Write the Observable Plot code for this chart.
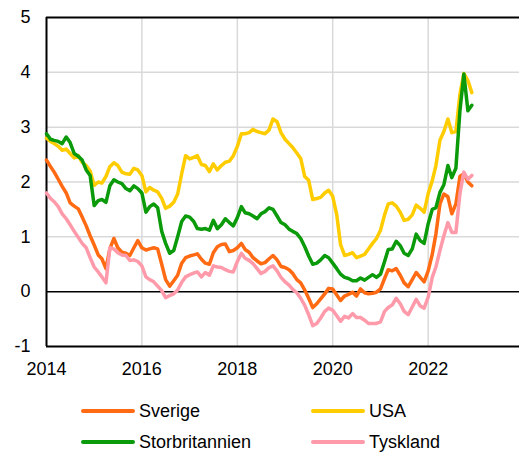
<!DOCTYPE html>
<html><head><meta charset="utf-8">
<script src="https://cdn.jsdelivr.net/npm/d3@7"></script>
<script src="https://cdn.jsdelivr.net/npm/@observablehq/plot@0.6"></script>
<style>
body{margin:0;background:#fff;font-family:"Liberation Sans",Arial,sans-serif;}
#wrap{position:relative;width:519px;height:452px;overflow:hidden;}
.leg{position:absolute;display:flex;align-items:center;font-size:18px;color:#000;line-height:20px;}
.sw{width:54px;height:4px;border-radius:2px;margin-right:4px;}
</style></head><body><div id="wrap"><div id="chart"></div></div>
<script>
const seriesNames = ["Sverige","USA","Storbritannien","Tyskland"];
const seriesColors = ["#FF6A13","#FFCC00","#0A9A0A","#FF9AAA"];
const xTickYears = [2014,2016,2018,2020,2022];
const yTickValues = [-1,0,1,2,3,4,5];

const sverige = [
 2.40,2.28,2.18,2.05,1.92,1.80,1.62,1.56,1.51,1.36,1.20,1.02,
 0.85,0.67,0.60,0.42,0.78,0.97,0.80,0.72,0.70,0.66,0.80,0.93,
 0.80,0.76,0.78,0.80,0.78,0.50,0.22,0.10,0.20,0.30,0.52,0.62,
 0.65,0.67,0.69,0.59,0.52,0.50,0.71,0.82,0.86,0.87,0.73,0.75,
 0.80,0.88,0.77,0.72,0.62,0.56,0.51,0.53,0.60,0.66,0.58,0.46,
 0.44,0.40,0.33,0.22,0.16,0.03,-0.12,-0.29,-0.22,-0.13,-0.04,0.06,
 0.05,-0.06,-0.16,-0.08,-0.05,-0.01,-0.08,0.05,-0.02,-0.04,-0.03,-0.01,
 0.05,0.24,0.40,0.38,0.42,0.30,0.16,0.09,0.22,0.35,0.26,0.18,
 0.38,0.68,1.05,1.60,1.78,1.73,1.42,1.60,2.10,2.15,2.00,1.93];
const usa = [
 2.80,2.74,2.70,2.65,2.58,2.60,2.52,2.44,2.48,2.36,2.30,2.20,
 1.94,2.00,1.98,2.10,2.28,2.35,2.30,2.18,2.15,2.14,2.25,2.22,
 2.12,1.82,1.90,1.85,1.82,1.70,1.52,1.56,1.63,1.78,2.15,2.48,
 2.42,2.45,2.48,2.32,2.30,2.19,2.33,2.22,2.30,2.36,2.38,2.48,
 2.65,2.88,2.88,2.90,2.96,2.92,2.90,2.88,2.95,3.15,3.10,2.90,
 2.78,2.70,2.63,2.53,2.43,2.10,2.03,1.68,1.70,1.72,1.80,1.85,
 1.74,1.40,0.86,0.66,0.68,0.71,0.62,0.65,0.68,0.78,0.88,0.97,
 1.12,1.40,1.60,1.62,1.56,1.45,1.30,1.32,1.40,1.58,1.52,1.45,
 1.79,2.02,2.30,2.76,2.92,3.15,2.90,2.92,3.60,3.98,3.85,3.63];
const storbritannien = [
 2.88,2.78,2.76,2.74,2.70,2.82,2.72,2.52,2.47,2.40,2.22,2.12,
 1.57,1.66,1.68,1.63,1.93,2.04,2.00,1.97,1.88,1.84,1.93,1.88,
 1.80,1.45,1.55,1.60,1.53,1.10,0.88,0.70,0.75,1.00,1.28,1.38,
 1.36,1.28,1.15,1.14,1.15,1.12,1.30,1.15,1.22,1.33,1.26,1.20,
 1.35,1.55,1.44,1.42,1.38,1.33,1.42,1.46,1.53,1.50,1.38,1.26,
 1.22,1.14,1.10,1.06,0.97,0.82,0.65,0.50,0.52,0.58,0.66,0.62,
 0.52,0.42,0.32,0.26,0.24,0.20,0.20,0.25,0.21,0.26,0.31,0.26,
 0.32,0.55,0.77,0.78,0.92,0.84,0.70,0.66,0.78,1.05,0.93,0.88,
 1.24,1.50,1.53,1.81,1.95,2.30,2.08,2.25,3.30,3.97,3.30,3.40];
const tyskland = [
 1.80,1.70,1.64,1.55,1.42,1.33,1.22,1.10,0.99,0.88,0.80,0.62,
 0.45,0.36,0.27,0.16,0.80,0.78,0.71,0.67,0.66,0.57,0.58,0.55,
 0.47,0.27,0.22,0.18,0.10,0.02,-0.11,-0.07,-0.04,0.03,0.17,0.27,
 0.31,0.34,0.36,0.27,0.35,0.30,0.47,0.45,0.44,0.40,0.37,0.36,
 0.55,0.70,0.61,0.57,0.51,0.42,0.33,0.37,0.44,0.47,0.38,0.26,
 0.18,0.12,0.04,-0.02,-0.12,-0.25,-0.42,-0.62,-0.58,-0.48,-0.36,-0.30,
 -0.34,-0.44,-0.54,-0.45,-0.48,-0.40,-0.47,-0.47,-0.52,-0.58,-0.58,-0.58,
 -0.55,-0.36,-0.29,-0.24,-0.12,-0.22,-0.36,-0.42,-0.28,-0.14,-0.26,-0.30,
 -0.10,0.26,0.45,0.75,1.02,1.26,1.08,1.08,1.79,2.18,2.05,2.12];

const months = d3.utcMonth.range(new Date(Date.UTC(2014,0,1)), new Date(Date.UTC(2023,0,1)));
const seriesValues = [sverige, usa, storbritannien, tyskland];
const rows = [];
seriesNames.forEach((name, i) => {
  seriesValues[i].forEach((v, j) => rows.push({series: name, date: months[j], value: v}));
});
const xTicks = xTickYears.map(y => new Date(Date.UTC(y,0,1)));
const font = "Liberation Sans, Arial, sans-serif";

const chart = Plot.plot({
  width: 519, height: 385,
  marginLeft: 46, marginRight: 0, marginTop: 17, marginBottom: 39,
  style: {fontFamily: font, fontSize: "18px", color: "#000", background: "#fff", overflow: "visible"},
  x: {type: "utc", domain: [new Date(Date.UTC(2014,0,1)), new Date(Date.UTC(2023,11,1))]},
  y: {domain: [-1, 5]},
  color: {domain: seriesNames, range: seriesColors},
  marks: [
    Plot.ruleY([1,2,3,4], {stroke: "#d9d9d9", strokeWidth: 1.5}),
    Plot.ruleX(xTicks.slice(1), {stroke: "#d9d9d9", strokeWidth: 1.5}),
    Plot.ruleY([0], {stroke: "#000", strokeWidth: 1.5}),
    Plot.ruleY([5, -1], {stroke: "#000", strokeWidth: 2}),
    Plot.ruleX([xTicks[0]], {stroke: "#000", strokeWidth: 2}),
    Plot.lineY(rows, {x: "date", y: "value", z: "series", stroke: "series", strokeWidth: 3.5, strokeLinejoin: "round", strokeLinecap: "round"}),
    Plot.axisX({ticks: xTicks, tickSize: 0, tickPadding: 16, tickFormat: d3.utcFormat("%Y"), label: null, fontSize: 18}),
    Plot.axisY({ticks: yTickValues, tickSize: 0, tickPadding: 16, tickFormat: d => String(d), label: null, fontSize: 18})
  ]
});
document.getElementById("chart").appendChild(chart);

const wrap = document.getElementById("wrap");
const legendPos = [[81, 401], [311, 401], [81, 432], [311, 432]];
seriesNames.forEach((name, i) => {
  const d = document.createElement("div");
  d.className = "leg";
  d.style.left = legendPos[i][0] + "px";
  d.style.top = legendPos[i][1] + "px";
  const sw = document.createElement("div");
  sw.className = "sw";
  sw.style.background = seriesColors[i];
  const t = document.createElement("span");
  t.textContent = name;
  d.appendChild(sw); d.appendChild(t);
  wrap.appendChild(d);
});
</script></body></html>
